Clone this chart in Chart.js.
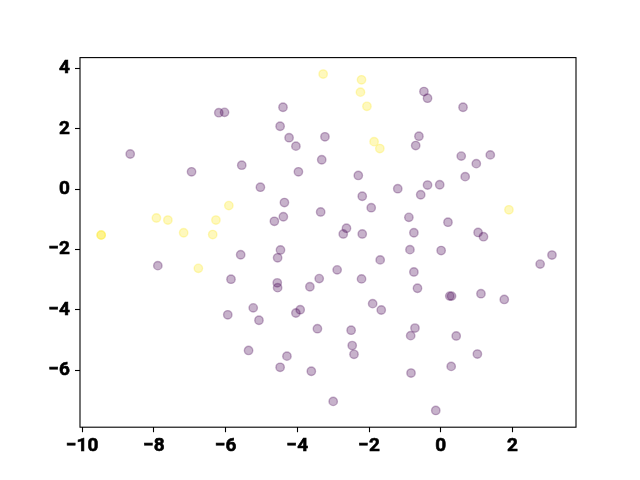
<!DOCTYPE html>
<html>
<head>
<meta charset="utf-8">
<script src="https://cdn.jsdelivr.net/npm/chart.js@4/dist/chart.umd.min.js"></script>
<style>
  html, body { margin: 0; padding: 0; background: #fff; }
  #wrap { width: 640px; height: 480px; }
</style>
</head>
<body>
<div id="wrap"><canvas id="chart" width="640" height="480"></canvas></div>
<script>
// class 0 points (purple)
const purpleX = [-6.19, -6.03, -8.66, -6.95, -5.55, -5.58, -7.89, -5.85, -5.94, -5.36,
  -4.40, -4.48, -4.23, -4.04, -3.23, -0.70, -0.61, -3.32, -3.97, -2.30,
  -5.03, -2.19, -1.20, -1.94, -4.36, -4.39, -4.64, -3.35, -2.63, -2.72,
  -2.19, -0.89, -0.75, -4.47, -4.55, -0.86, -0.47, -0.37, 0.62, 0.57,
  0.99, 1.38, 0.68, -0.37, -0.03, -0.56, 0.20, 1.04, 1.19, 0.01,
  3.10, 2.77, -0.75, -0.65, 0.25, 0.30, 1.12, 1.77, -0.72, -0.84,
  0.43, 1.02, 0.29, -0.83, -0.14, -4.56, -4.55, -2.89, -3.39, -3.65,
  -2.21, -1.69, -5.23, -5.07, -1.90, -1.66, -4.04, -3.92, -3.44, -2.50,
  -2.47, -2.42, -4.29, -4.48, -3.61, -3.00];
const purpleY = [2.54, 2.55, 1.17, 0.58, 0.80, -2.17, -2.53, -2.98, -4.16, -5.34,
  2.72, 2.09, 1.71, 1.43, 1.74, 1.45, 1.76, 0.98, 0.58, 0.46,
  0.07, -0.23, 0.02, -0.61, -0.44, -0.91, -1.06, -0.75, -1.29, -1.48,
  -1.48, -0.93, -1.44, -2.01, -2.27, -2.00, 3.24, 3.02, 2.72, 1.10,
  0.85, 1.14, 0.42, 0.14, 0.15, -0.18, -1.09, -1.43, -1.57, -2.03,
  -2.18, -2.48, -2.74, -3.28, -3.54, -3.54, -3.46, -3.65, -4.60, -4.85,
  -4.86, -5.46, -5.87, -6.09, -7.33, -3.10, -3.26, -2.67, -2.96, -3.23,
  -2.97, -2.34, -3.93, -4.34, -3.79, -4.00, -4.10, -3.99, -4.62, -4.67,
  -5.18, -5.47, -5.53, -5.90, -6.03, -7.03];

// class 1 points (yellow)
const yellowX = [-9.47, -9.47, -7.93, -7.61, -6.27, -7.17, -6.36, -5.91, -6.76,
  -3.28, -2.21, -2.24, -2.06, -1.86, -1.70, 1.90];
const yellowY = [-1.51, -1.52, -0.95, -1.02, -1.02, -1.44, -1.50, -0.54, -2.62,
  3.82, 3.63, 3.22, 2.75, 1.58, 1.35, -0.68];

const xTicks = [-10, -8, -6, -4, -2, 0, 2];
const yTicks = [-6, -4, -2, 0, 2, 4];

function toPoints(xs, ys) {
  return xs.map((x, i) => ({ x: x, y: ys[i] }));
}

const fmt = v => (v < 0 ? '\u2212' + Math.abs(v) : String(v));

// draw the full box around the plot area like matplotlib spines
const frame = {
  id: 'frame',
  afterDraw(chart) {
    const a = chart.chartArea;
    const ctx = chart.ctx;
    ctx.save();
    ctx.strokeStyle = '#000';
    ctx.lineWidth = 1.1;
    ctx.strokeRect(a.left, a.top, a.right - a.left, a.bottom - a.top);
    ctx.restore();
  }
};

const tickFont = { family: 'Roboto', size: 19, weight: 'bold' };

new Chart(document.getElementById('chart'), {
  type: 'scatter',
  data: {
    datasets: [
      {
        data: toPoints(purpleX, purpleY),
        backgroundColor: 'rgba(68,1,84,0.3)',
        borderColor: 'rgba(68,1,84,0.3)',
        borderWidth: 1.4,
        pointRadius: 4.2,
        pointHoverRadius: 4.2
      },
      {
        data: toPoints(yellowX, yellowY),
        backgroundColor: 'rgba(253,231,37,0.3)',
        borderColor: 'rgba(253,231,37,0.3)',
        borderWidth: 1.4,
        pointRadius: 4.2,
        pointHoverRadius: 4.2
      }
    ]
  },
  options: {
    responsive: false,
    animation: false,
    events: [],
    layout: { padding: { left: 0, right: 64, top: 57.6, bottom: 0 } },
    plugins: { legend: { display: false }, tooltip: { enabled: false } },
    scales: {
      x: {
        type: 'linear',
        min: -10.06,
        max: 3.77,
        afterBuildTicks: s => { s.ticks = xTicks.map(v => ({ value: v })); },
        afterFit: s => { s.height = 52.8; },
        border: { display: false },
        grid: { drawOnChartArea: false, drawTicks: true, tickLength: 5, tickWidth: 1.1, tickColor: '#000' },
        ticks: { color: '#000', font: tickFont, padding: 3, maxRotation: 0, callback: fmt,
          textStrokeColor: '#000', textStrokeWidth: 0.6 }
      },
      y: {
        type: 'linear',
        min: -7.885,
        max: 4.365,
        afterBuildTicks: s => { s.ticks = yTicks.map(v => ({ value: v })); },
        afterFit: s => { s.width = 80; },
        border: { display: false },
        grid: { drawOnChartArea: false, drawTicks: true, tickLength: 5, tickWidth: 1.1, tickColor: '#000' },
        ticks: { color: '#000', font: tickFont, padding: 5, callback: fmt,
          textStrokeColor: '#000', textStrokeWidth: 0.6 }
      }
    }
  },
  plugins: [frame]
});
</script>
</body>
</html>
